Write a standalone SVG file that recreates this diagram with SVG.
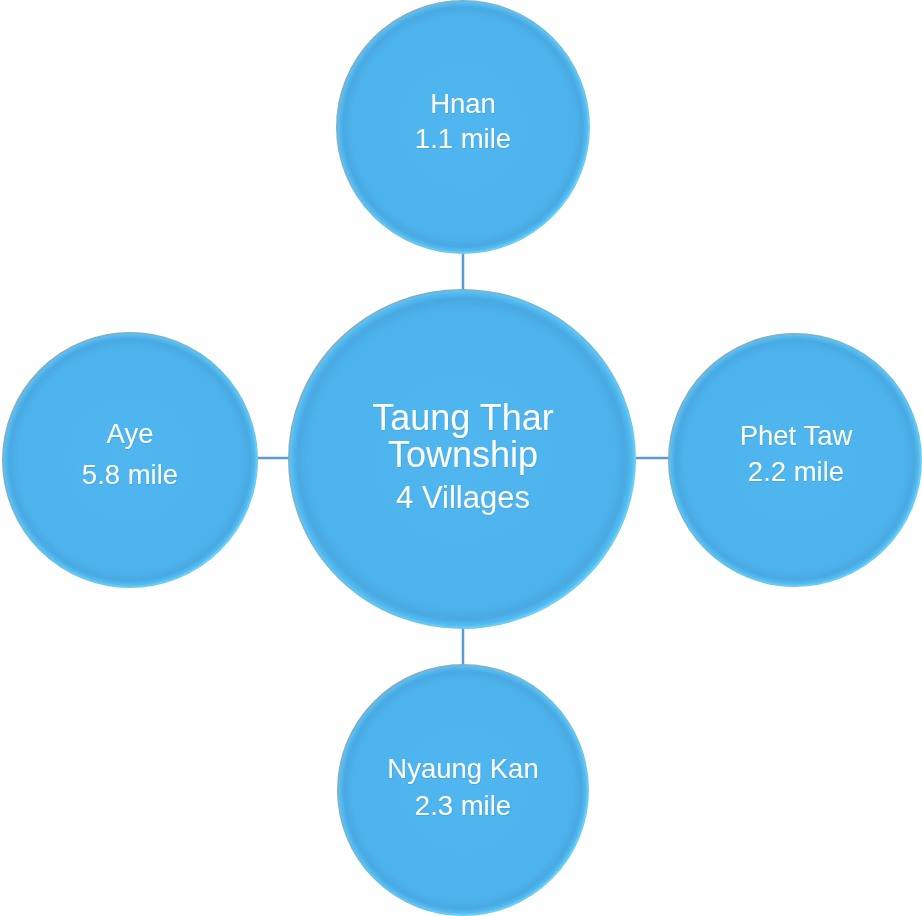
<svg xmlns="http://www.w3.org/2000/svg" width="922" height="916" viewBox="0 0 922 916">
<defs>
<radialGradient id="fillG" cx="0.5" cy="0.5" r="0.5">
<stop offset="0" stop-color="#4fb6ef"/>
<stop offset="0.88" stop-color="#4db3ed"/>
<stop offset="0.95" stop-color="#4aa9e2"/>
<stop offset="0.985" stop-color="#52bdf3"/>
<stop offset="1" stop-color="#62cffb"/>
</radialGradient>
<linearGradient id="rimG" x1="0" y1="0" x2="1" y2="1">
<stop offset="0" stop-color="#8ea6b4"/>
<stop offset="0.45" stop-color="#6fb9dc"/>
<stop offset="1" stop-color="#66d8ff"/>
</linearGradient>
<filter id="ts" x="-10%" y="-10%" width="120%" height="130%">
<feDropShadow dx="0.5" dy="1" stdDeviation="0.6" flood-color="#2a6f98" flood-opacity="0.25"/>
</filter>
</defs>
<style>
.node { fill: url(#fillG); stroke: url(#rimG); stroke-width: 2; }
.lbl { fill: #ffffff; font-family: "Liberation Sans", Arial, sans-serif; text-anchor: middle; filter: url(#ts); }
.conn { stroke: #5b9bd5; stroke-width: 2.5; fill: none; }
</style>
<g id="connectors">
<line class="conn" x1="463" y1="252" x2="463" y2="291"/>
<line class="conn" x1="463" y1="627" x2="463" y2="665"/>
<line class="conn" x1="257" y1="458" x2="289" y2="458"/>
<line class="conn" x1="636" y1="458" x2="669" y2="458"/>
</g>
<g id="center">
<ellipse class="node" cx="462" cy="459" rx="173" ry="169"/>
<text class="lbl" x="463" y="430" font-size="36">Taung Thar</text>
<text class="lbl" x="463" y="467" font-size="36">Township</text>
<text class="lbl" x="463" y="508" font-size="31">4 Villages</text>
</g>
<g id="hnan">
<circle class="node" cx="463" cy="127" r="126"/>
<text class="lbl" x="463" y="113" font-size="27.5">Hnan</text>
<text class="lbl" x="463" y="148" font-size="27.5">1.1 mile</text>
</g>
<g id="aye">
<circle class="node" cx="130" cy="460" r="127"/>
<text class="lbl" x="130" y="443" font-size="27.5">Aye</text>
<text class="lbl" x="130" y="484" font-size="27.5">5.8 mile</text>
</g>
<g id="phettaw">
<circle class="node" cx="795" cy="460" r="126"/>
<text class="lbl" x="796" y="445" font-size="27.5">Phet Taw</text>
<text class="lbl" x="796" y="481" font-size="27.5">2.2 mile</text>
</g>
<g id="nyaungkan">
<circle class="node" cx="463" cy="790" r="125"/>
<text class="lbl" x="463" y="778" font-size="27.5">Nyaung Kan</text>
<text class="lbl" x="463" y="815" font-size="27.5">2.3 mile</text>
</g>
</svg>
